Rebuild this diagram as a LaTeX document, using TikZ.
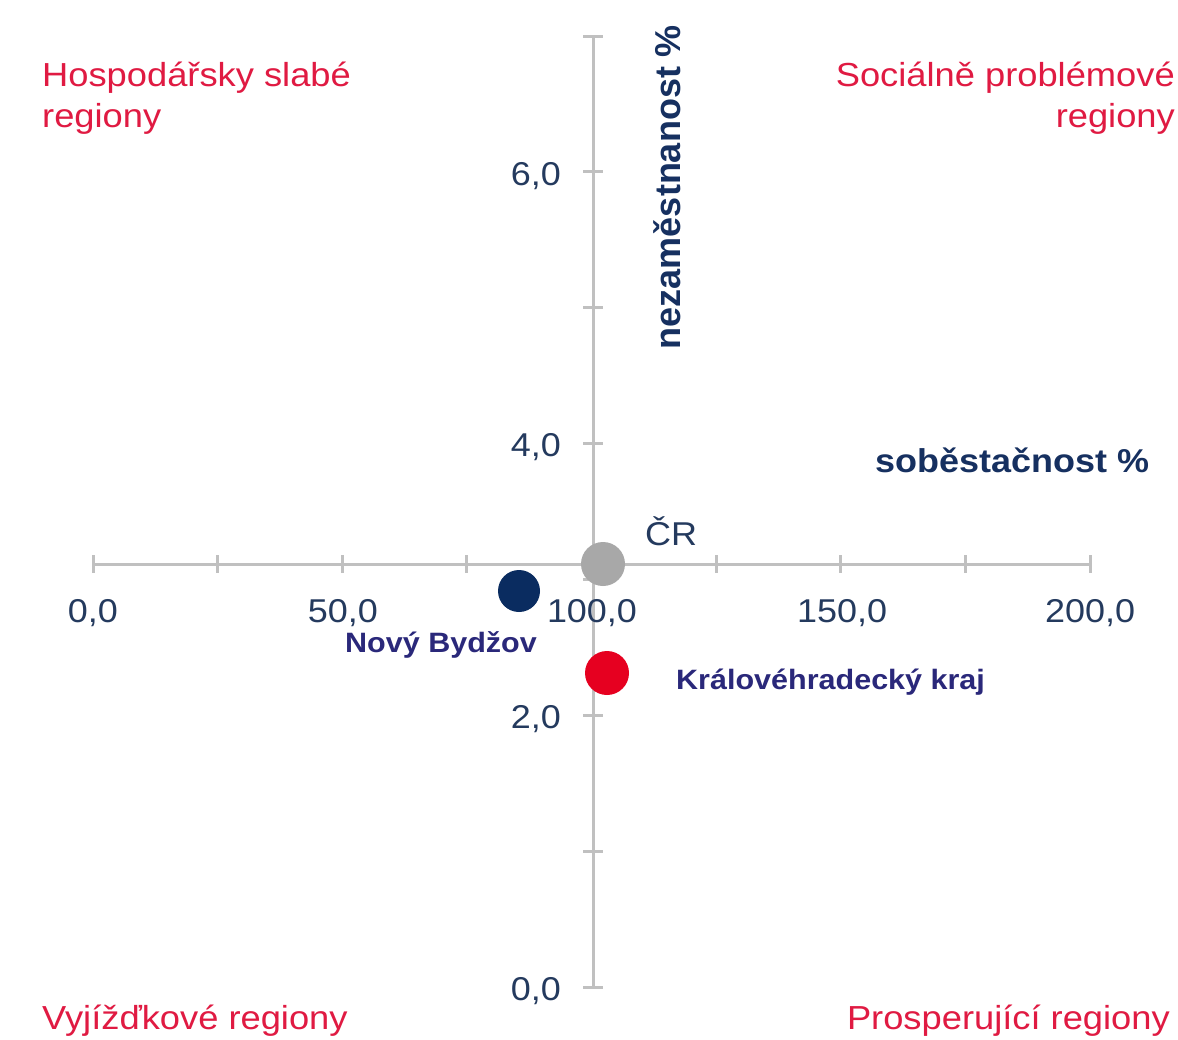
\documentclass[tikz,border=0pt]{standalone}
\usepackage{fontspec}
\setmainfont{Liberation Sans}
\usepackage{graphicx}
\definecolor{redtxt}{RGB}{224,26,66}
\definecolor{ticktxt}{RGB}{36,58,94}
\definecolor{axtxt}{RGB}{22,48,96}
\definecolor{datatxt}{RGB}{42,40,122}
\definecolor{axisgray}{RGB}{192,192,192}
\definecolor{navydot}{RGB}{10,44,96}
\definecolor{reddot}{RGB}{230,0,32}
\definecolor{graydot}{RGB}{168,168,168}
\newcommand\wide[1]{\scalebox{1.09}[1]{#1}}
\begin{document}
\begin{tikzpicture}[x=1pt,y=-1pt,
  axisline/.style={draw=axisgray, line width=3pt},
  ticklbl/.style={text=ticktxt, inner sep=0pt, font=\fontsize{33}{40}\selectfont},
  axlbl/.style={text=axtxt, inner sep=0pt, font=\fontsize{33}{40}\selectfont\bfseries},
  datalbl/.style={text=datatxt, inner sep=0pt, font=\fontsize{28}{34}\selectfont\bfseries},
  quad/.style={text=redtxt, inner sep=0pt, font=\fontsize{33.3}{41}\selectfont},
  dot/.style={circle, inner sep=0pt, minimum size=#1}]
\useasboundingbox (0,0) rectangle (1178,1039);
\clip (0,0) rectangle (1178,1039);
\fill[white] (0,0) rectangle (1178,1039);
% axes
\coordinate (xl) at (93,564);
\coordinate (xr) at (1090,564);
\coordinate (yt) at (593,36);
\coordinate (yb) at (593,987);
\draw[axisline] (xl) -- (xr);
\draw[axisline] (yt) -- (yb);
\foreach \k in {0,...,8} {\draw[axisline] (93+\k*124.625,555) -- ++(0,18);}
\foreach \k in {0,...,7} {\draw[axisline] (583,987-\k*135.857) -- ++(20,0);}
% tick labels
\node[ticklbl, anchor=base] (x0) at (93,622) {\wide{0,0}};
\node[ticklbl, anchor=base] (x50) at (343,622) {\wide{50,0}};
\node[ticklbl, anchor=base] (x100) at (592,622) {\wide{100,0}};
\node[ticklbl, anchor=base] (x150) at (842,622) {\wide{150,0}};
\node[ticklbl, anchor=base] (x200) at (1090,622) {\wide{200,0}};
\node[ticklbl, anchor=base east] (y6) at (561,185) {\wide{6,0}};
\node[ticklbl, anchor=base east] (y4) at (561,456) {\wide{4,0}};
\node[ticklbl, anchor=base east] (y2) at (561,728) {\wide{2,0}};
\node[ticklbl, anchor=base east] (y0) at (561,1000) {\wide{0,0}};
% axis titles
\node[axlbl, anchor=base west] (xt) at (875,472) {\wide{soběstačnost \%}};
\node[text=axtxt, inner sep=0pt, font=\fontsize{36}{40}\selectfont\bfseries, rotate=90, anchor=base] (ytl) at (680,187) {nezaměstnanost \%};
% data points
\node[dot=44pt, fill=graydot] (cr) at (603,564) {};
\node[dot=42pt, fill=navydot] (nb) at (519,591) {};
\node[dot=44pt, fill=reddot] (hk) at (607,673) {};
\node[ticklbl, anchor=base west] (crl) at (645,545) {\wide{ČR}};
\node[datalbl, anchor=base] (nbl) at (441,652) {\wide{Nový Bydžov}};
\node[datalbl, anchor=base west] (hkl) at (676,689) {\wide{Královéhradecký kraj}};
% quadrant labels
\node[quad, anchor=base west] (q1) at (42,86) {\wide{\begin{tabular}[t]{@{}l@{}}Hospodářsky slabé\\regiony\end{tabular}}};
\node[quad, anchor=base east] (q2) at (1175,86) {\wide{\begin{tabular}[t]{@{}r@{}}Sociálně problémové\\regiony\end{tabular}}};
\node[quad, anchor=base west] (q3) at (42,1029) {\wide{Vyjížďkové regiony}};
\node[quad, anchor=base east] (q4) at (1170,1029) {\wide{Prosperující regiony}};
\end{tikzpicture}
\end{document}
